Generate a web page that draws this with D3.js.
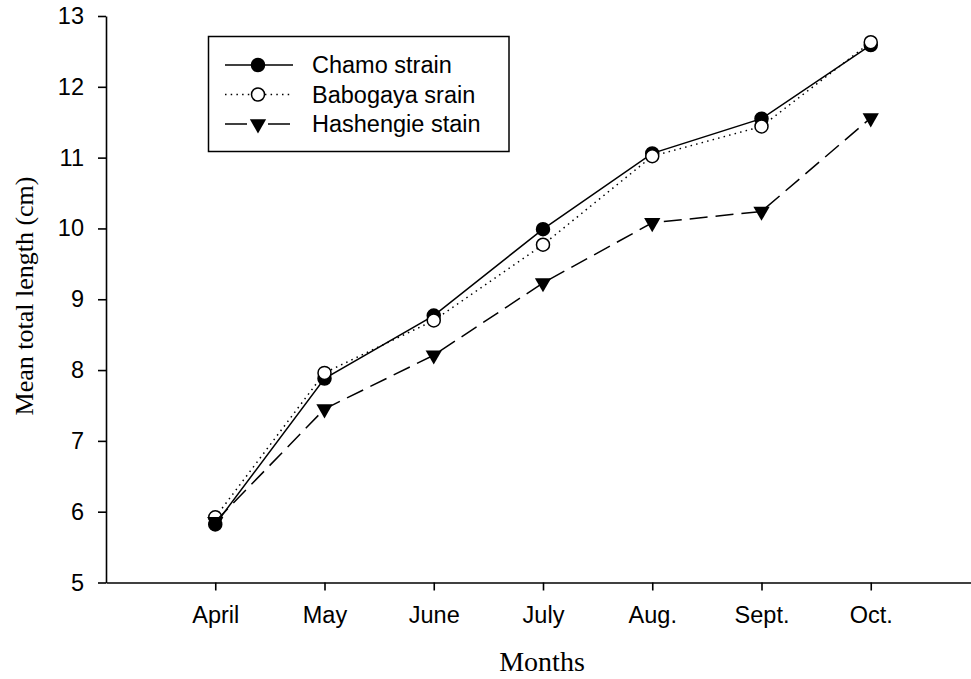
<!doctype html>
<html>
  <head>
    <script src="https://cdnjs.cloudflare.com/ajax/libs/d3/7.8.5/d3.min.js"></script>
    <style>
      body { margin: 0; background: #fff; }
      .tick text { font-family: "Liberation Sans", Arial, sans-serif; font-size: 23.5px; fill: #000; }
      .axis path, .axis line { stroke: #000; stroke-width: 1.6; }
      .title { font-family: "Liberation Serif", "Times New Roman", serif; fill: #000; }
      .legend text { font-family: "Liberation Sans", Arial, sans-serif; font-size: 23.5px; fill: #000; }
    </style>
  </head>
  <body>
    <svg width="971" height="679"></svg>
    <script>
      var months = ["April", "May", "June", "July", "Aug.", "Sept.", "Oct."];
      var chamo = [5.82, 7.88, 8.77, 9.99, 11.06, 11.55, 12.59];
      var babogaya = [5.92, 7.96, 8.70, 9.77, 11.02, 11.44, 12.63];
      var hashengie = [5.86, 7.45, 8.21, 9.23, 10.08, 10.24, 11.56];
      var yTicks = [5, 6, 7, 8, 9, 10, 11, 12, 13];
      var seriesNames = ["Chamo strain", "Babogaya srain", "Hashengie stain"];

      var svg = d3.select("svg");

      var x = d3.scalePoint().domain(months).range([106, 980]).padding(1);
      var y = d3.scaleLinear().domain([5, 13]).range([582.5, 16]);

      svg.append("g")
          .attr("class", "axis")
          .attr("transform", "translate(0,582.5)")
          .call(d3.axisBottom(x).tickSize(8).tickSizeOuter(0).tickPadding(15.5));

      svg.append("g")
          .attr("class", "axis")
          .attr("transform", "translate(106,0)")
          .call(d3.axisLeft(y).tickValues(yTicks).tickSize(8).tickSizeOuter(0).tickPadding(14));

      svg.append("text")
          .attr("class", "title")
          .attr("x", 542)
          .attr("y", 671)
          .attr("text-anchor", "middle")
          .style("font-size", "28px")
          .text("Months");

      svg.append("text")
          .attr("class", "title")
          .attr("transform", "translate(33,296) rotate(-90)")
          .attr("text-anchor", "middle")
          .style("font-size", "26px")
          .text("Mean total length (cm)");

      var series = [
        { name: seriesNames[0], values: chamo, dash: null, marker: "filled" },
        { name: seriesNames[1], values: babogaya, dash: "1.5 4.2", marker: "open" },
        { name: seriesNames[2], values: hashengie, dash: "18 8", marker: "triangle" }
      ];

      var line = d3.line()
        .x((d, i) => x(months[i]))
        .y(d => y(d));

      var tri = d3.symbol().type(d3.symbolTriangle).size(115);

      function drawMarker(g, kind, cx, cy) {
        if (kind === "triangle") {
          g.append("path")
              .attr("d", tri)
              .attr("transform", "translate(" + cx + "," + cy + ") rotate(180)")
              .attr("fill", "#000");
        } else {
          g.append("circle")
              .attr("cx", cx)
              .attr("cy", cy)
              .attr("r", 6.5)
              .attr("fill", kind === "filled" ? "#000" : "#fff")
              .attr("stroke", "#000")
              .attr("stroke-width", 1.5);
        }
      }

      series.forEach(s => {
        var g = svg.append("g");
        g.append("path")
            .datum(s.values)
            .attr("d", line)
            .attr("fill", "none")
            .attr("stroke", "#000")
            .attr("stroke-width", 1.5)
            .attr("stroke-dasharray", s.dash);
        s.values.forEach((v, i) => drawMarker(g, s.marker, x(months[i]), y(v)));
      });

      // legend
      var legend = svg.append("g").attr("class", "legend");
      legend.append("rect")
          .attr("x", 208.5)
          .attr("y", 36.5)
          .attr("width", 300.5)
          .attr("height", 115)
          .attr("fill", "#fff")
          .attr("stroke", "#000")
          .attr("stroke-width", 1.5);

      var rowY = [65, 94.5, 124];
      series.forEach((s, i) => {
        var ly = rowY[i];
        if (s.marker === "triangle") {
          legend.append("line").attr("x1", 225).attr("x2", 247).attr("y1", ly).attr("y2", ly)
              .attr("stroke", "#000").attr("stroke-width", 1.5);
          legend.append("line").attr("x1", 268).attr("x2", 290).attr("y1", ly).attr("y2", ly)
              .attr("stroke", "#000").attr("stroke-width", 1.5);
        } else {
          legend.append("line").attr("x1", 225).attr("x2", 293).attr("y1", ly).attr("y2", ly)
              .attr("stroke", "#000").attr("stroke-width", 1.5)
              .attr("stroke-dasharray", s.dash);
        }
        drawMarker(legend, s.marker, 258, ly);
        legend.append("text")
            .attr("x", 312)
            .attr("y", ly)
            .attr("dy", "0.36em")
            .text(s.name);
      });
    </script>
  </body>
</html>
